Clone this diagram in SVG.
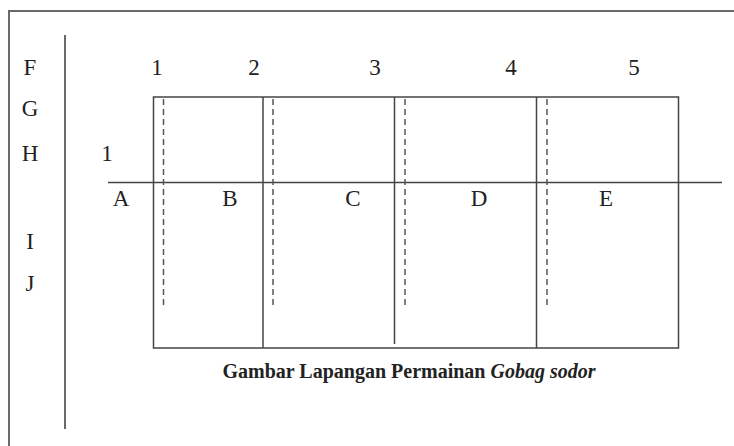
<svg xmlns="http://www.w3.org/2000/svg" width="734" height="446" viewBox="0 0 734 446">
  <style>
    .lbl { font-family: "Liberation Serif", "Times New Roman", serif; font-size: 23px; fill: #222; text-anchor: middle; }
    .frame { stroke: #6a6a6a; stroke-width: 2; fill: none; }
    .solid { stroke: #444; stroke-width: 1.5; fill: none; }
    .dash { stroke: #555; stroke-width: 1.5; stroke-dasharray: 6 4; fill: none; }
    .cap { font-family: "Liberation Serif", "Times New Roman", serif; font-size: 20px; font-weight: bold; fill: #222; text-anchor: middle; }
  </style>
  <rect width="734" height="446" fill="#ffffff"/>
  <g id="frame">
    <path class="frame" d="M9 446 V11 H734"/>
    <path class="frame" d="M65 35 V429" stroke-width="1.8"/>
  </g>
  <g id="row-labels">
    <text class="lbl" x="30" y="75">F</text>
    <text class="lbl" x="30" y="116">G</text>
    <text class="lbl" x="30" y="161">H</text>
    <text class="lbl" x="30" y="249">I</text>
    <text class="lbl" x="30" y="291">J</text>
  </g>
  <g id="column-numbers">
    <text class="lbl" x="157" y="75">1</text>
    <text class="lbl" x="254" y="75">2</text>
    <text class="lbl" x="375" y="75">3</text>
    <text class="lbl" x="511" y="75">4</text>
    <text class="lbl" x="634" y="75">5</text>
    <text class="lbl" x="107" y="161">1</text>
  </g>
  <g id="field">
    <rect class="solid" x="153.5" y="97" width="525" height="251"/>
    <line class="solid" x1="263" y1="97" x2="263" y2="348"/>
    <line class="solid" x1="394.5" y1="97" x2="394.5" y2="344"/>
    <line class="solid" x1="536.5" y1="97" x2="536.5" y2="348"/>
  </g>
  <g id="connectors">
    <line class="solid" x1="108" y1="182.5" x2="722" y2="182.5"/>
    <line class="dash" x1="163.5" y1="99" x2="163.5" y2="305"/>
    <line class="dash" x1="273" y1="99" x2="273" y2="305"/>
    <line class="dash" x1="405" y1="99" x2="405" y2="305"/>
    <line class="dash" x1="547" y1="99" x2="547" y2="305"/>
  </g>
  <g id="area-labels">
    <text class="lbl" x="121" y="206">A</text>
    <text class="lbl" x="230" y="206">B</text>
    <text class="lbl" x="353" y="206">C</text>
    <text class="lbl" x="479" y="206">D</text>
    <text class="lbl" x="606" y="206">E</text>
  </g>
  <g id="caption">
    <text class="cap" x="409" y="378">Gambar Lapangan Permainan <tspan font-style="italic">Gobag sodor</tspan></text>
  </g>
</svg>
